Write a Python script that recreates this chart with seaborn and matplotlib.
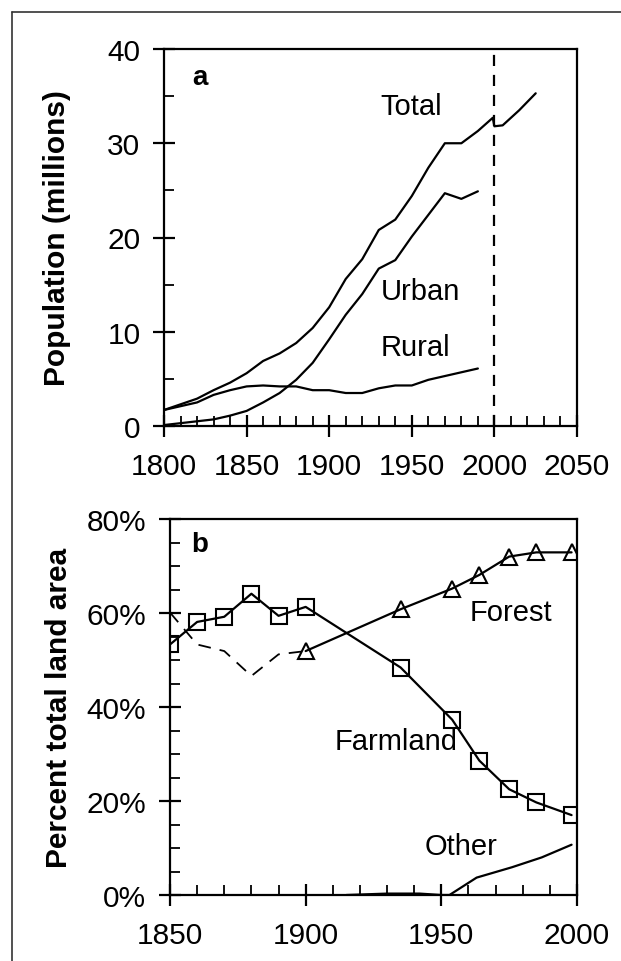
import matplotlib
matplotlib.use("Agg")
import matplotlib.pyplot as plt
import seaborn as sns
import pandas as pd
from matplotlib.ticker import MultipleLocator, FuncFormatter
from matplotlib.lines import Line2D

# ---------------- data ----------------
total_years = [1800, 1820, 1830, 1840, 1850, 1860, 1870, 1880, 1890, 1900, 1910, 1920,
               1930, 1940, 1950, 1960, 1970, 1980, 1990, 1999, 2000, 2005, 2015, 2025]
total_pop = [1.7, 2.9, 3.8, 4.6, 5.6, 6.9, 7.7, 8.8, 10.4, 12.6, 15.6, 17.7,
             20.8, 21.9, 24.4, 27.4, 30.0, 30.0, 31.3, 32.7, 31.8, 31.9, 33.5, 35.3]

urban_years = [1800, 1810, 1820, 1830, 1840, 1850, 1860, 1870, 1880, 1890, 1900, 1910,
               1920, 1930, 1940, 1950, 1960, 1970, 1980, 1990]
urban_pop = [0.1, 0.3, 0.5, 0.7, 1.1, 1.6, 2.5, 3.5, 4.9, 6.7, 9.2, 11.8,
             14.0, 16.7, 17.6, 20.1, 22.4, 24.7, 24.1, 24.9]

rural_years = [1800, 1820, 1830, 1840, 1850, 1860, 1870, 1880, 1890, 1900, 1910,
               1920, 1930, 1940, 1950, 1960, 1970, 1980, 1990]
rural_pop = [1.7, 2.5, 3.3, 3.8, 4.2, 4.3, 4.2, 4.2, 3.8, 3.8, 3.5,
             3.5, 4.0, 4.3, 4.3, 4.9, 5.3, 5.7, 6.1]

farm_years = [1850, 1860, 1870, 1880, 1890, 1900, 1935, 1954, 1964, 1975, 1985, 1998]
farm_pct = [53.3, 58.1, 59.2, 64.1, 59.4, 61.3, 48.4, 37.3, 28.6, 22.5, 19.7, 17.0]

forest_early_years = [1850, 1860, 1870, 1880, 1890, 1900]
forest_early_pct = [60.1, 53.3, 51.9, 46.6, 51.2, 51.9]

forest_years = [1900, 1935, 1954, 1964, 1975, 1985, 1998]
forest_pct = [51.9, 60.8, 65.2, 68.1, 72.0, 72.9, 72.9]

other_years = [1915, 1930, 1942, 1950, 1953, 1963, 1976, 1987, 1998]
other_pct = [0.0, 0.3, 0.3, 0.0, 0.0, 3.7, 5.9, 8.0, 10.7]

pop_ticks = [0, 10, 20, 30, 40]
pop_xticks = [1800, 1850, 1900, 1950, 2000, 2050]
land_ticks = [0, 20, 40, 60, 80]
land_xticks = [1850, 1900, 1950, 2000]

# ---------------- style ----------------
sns.set_style("ticks")
plt.rcParams["font.family"] = ["Liberation Sans", "DejaVu Sans"]
plt.rcParams["axes.linewidth"] = 1.6
plt.rcParams["text.color"] = "black"
plt.rcParams["axes.labelcolor"] = "black"
plt.rcParams["xtick.color"] = "black"
plt.rcParams["ytick.color"] = "black"

W, H = 621, 962
fig = plt.figure(figsize=(W / 100, H / 100), dpi=100)

def px_axes(l, t, r, b):
    return fig.add_axes([l / W, 1 - b / H, (r - l) / W, (b - t) / H])

ax1 = px_axes(164, 50, 577, 427)
ax2 = px_axes(170, 520, 577, 896)

lw = 1.6
df_total = pd.DataFrame({"year": total_years, "pop": total_pop})
df_urban = pd.DataFrame({"year": urban_years, "pop": urban_pop})
df_rural = pd.DataFrame({"year": rural_years, "pop": rural_pop})
for d in (df_total, df_urban, df_rural):
    sns.lineplot(data=d, x="year", y="pop", ax=ax1, color="black", lw=lw,
                 estimator=None, sort=False)
ax1.axvline(2000, color="black", lw=1.6, dashes=(5, 4))

df_farm = pd.DataFrame({"year": farm_years, "pct": farm_pct})
df_fe = pd.DataFrame({"year": forest_early_years, "pct": forest_early_pct})
df_for = pd.DataFrame({"year": forest_years, "pct": forest_pct})
df_oth = pd.DataFrame({"year": other_years, "pct": other_pct})

sns.lineplot(data=df_fe, x="year", y="pct", ax=ax2, color="black", lw=1.3,
             estimator=None, sort=False)
ax2.lines[-1].set_dashes((7, 5))
sns.lineplot(data=df_oth, x="year", y="pct", ax=ax2, color="black", lw=lw,
             estimator=None, sort=False)
sns.lineplot(data=df_farm, x="year", y="pct", ax=ax2, color="black", lw=lw,
             estimator=None, sort=False, marker="s", markersize=11,
             markerfacecolor="none", markeredgecolor="black", markeredgewidth=1.5)
sns.lineplot(data=df_for, x="year", y="pct", ax=ax2, color="black", lw=lw,
             estimator=None, sort=False, marker="^", markersize=12,
             markerfacecolor="none", markeredgecolor="black", markeredgewidth=1.5)

fs = 21.5
for ax in (ax1, ax2):
    for s in ax.spines.values():
        s.set_visible(True)
        s.set_linewidth(1.6)
        s.set_color("black")
    ax.tick_params(which="major", direction="inout", length=16, width=1.6,
                   labelsize=fs, colors="black", pad=8)
    ax.tick_params(which="minor", direction="in", length=7, width=1.3, colors="black")
    ax.set_xlabel("")
    ax.set_ylabel("")

ax1.set_xlim(1800, 2050)
ax1.set_ylim(0, 40)
ax1.set_xticks(pop_xticks)
ax1.set_yticks(pop_ticks)
ax1.xaxis.set_minor_locator(MultipleLocator(10))
ax1.yaxis.set_minor_locator(MultipleLocator(5))
ax1.tick_params(axis="y", which="major", pad=9)
ax1.tick_params(axis="x", which="major", pad=11)
ax1.set_ylabel("Population (millions)", fontsize=21.5, fontweight="bold", labelpad=26)

ax2.set_xlim(1850, 2000)
ax2.set_ylim(0, 80)
ax2.set_xticks(land_xticks)
ax2.set_yticks(land_ticks)
ax2.yaxis.set_major_formatter(FuncFormatter(lambda v, p: f"{int(v)}%"))
ax2.xaxis.set_minor_locator(MultipleLocator(10))
ax2.yaxis.set_minor_locator(MultipleLocator(5))
ax2.tick_params(axis="y", which="major", pad=9)
ax2.tick_params(axis="x", which="major", pad=11)
ax2.set_ylabel("Percent total land area", fontsize=21.5, fontweight="bold", labelpad=10)

# annotations
tf = 21
ax1.text(1822, 37.0, "a", fontsize=20, fontweight="bold", ha="center", va="center")
ax1.text(1931, 33.9, "Total", fontsize=tf, ha="left", va="center")
ax1.text(1931, 14.3, "Urban", fontsize=tf, ha="left", va="center")
ax1.text(1931, 8.4, "Rural", fontsize=tf, ha="left", va="center")

ax2.text(1861, 74.7, "b", fontsize=20, fontweight="bold", ha="center", va="center")
ax2.text(1960.6, 60.2, "Forest", fontsize=tf, ha="left", va="center")
ax2.text(1910.8, 32.8, "Farmland", fontsize=tf, ha="left", va="center")
ax2.text(1944, 10.4, "Other", fontsize=tf, ha="left", va="center")

# outer frame (top and left)
fig.add_artist(Line2D([12 / W, 1.0], [1 - 13 / H, 1 - 13 / H], color="#333333", lw=1.2))
fig.add_artist(Line2D([12 / W, 12 / W], [1 - 13 / H, 0.0], color="#333333", lw=1.2))

fig.savefig("out.png", dpi=100, facecolor="white")
